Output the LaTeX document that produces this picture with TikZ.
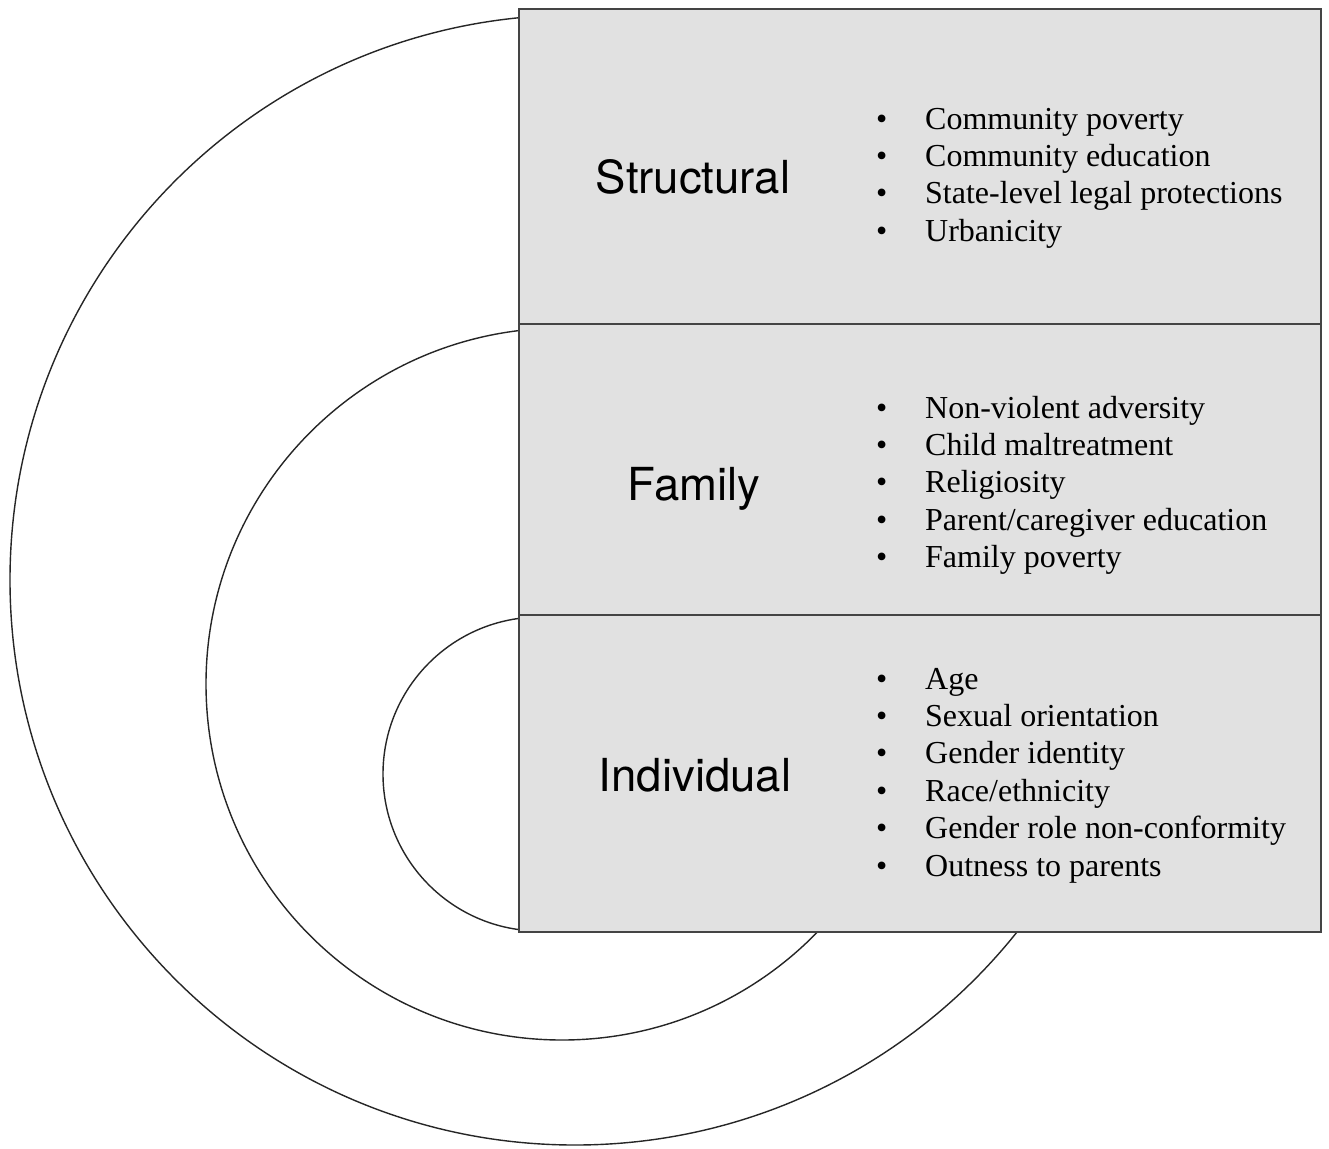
\documentclass[tikz,border=0pt]{standalone}
\usepackage{fontspec}
\setmainfont{Liberation Serif}
\newfontfamily\levelfont{TeX Gyre Heros}
\definecolor{boxgray}{HTML}{E1E1E1}
\definecolor{edgegray}{HTML}{444444}
\newcommand{\itm}[1]{\makebox[49pt][l]{\textbullet}#1}
\tikzset{
  levelbox/.style={draw=edgegray, fill=boxgray, line width=1.6pt, inner sep=0pt, outer sep=0pt, anchor=north west, minimum width=802pt},
  levellabel/.style={font=\levelfont\fontsize{45.5}{50}\selectfont, anchor=base, inner sep=0pt},
  levellist/.style={font=\fontsize{32}{37.4}\selectfont, anchor=base west, inner sep=0pt},
  ring/.style={draw=black!85, line width=1.4pt}
}
\begin{document}
\begin{tikzpicture}[x=1pt, y=-1pt]
\useasboundingbox[fill=white] (0,0) rectangle (1329,1148);
\draw[ring] (575,580) circle[radius=565pt];
\draw[ring] (562,684) circle[radius=356pt];
\draw[ring] (540,774) circle[radius=157pt];
\node[levelbox, minimum height=315pt] (sbox) at (519,9) {};
\node[levelbox, minimum height=291pt] (fbox) at (519,324) {};
\node[levelbox, minimum height=317pt] (ibox) at (519,615) {};
\node[levellabel] (slabel) at (693,193) {Structural};
\node[levellabel] (flabel) at (694,500) {Family};
\node[levellabel] (ilabel) at (695,791) {Individual};
\node[levellist] (slist) at (876,129) {\begin{tabular}[t]{@{}l@{}}
\itm{Community poverty}\\
\itm{Community education}\\
\itm{State-level legal protections}\\
\itm{Urbanicity}
\end{tabular}};
\node[levellist] (flist) at (876,418) {\begin{tabular}[t]{@{}l@{}}
\itm{Non-violent adversity}\\
\itm{Child maltreatment}\\
\itm{Religiosity}\\
\itm{Parent/caregiver education}\\
\itm{Family poverty}
\end{tabular}};
\node[levellist] (ilist) at (876,689) {\begin{tabular}[t]{@{}l@{}}
\itm{Age}\\
\itm{Sexual orientation}\\
\itm{Gender identity}\\
\itm{Race/ethnicity}\\
\itm{Gender role non-conformity}\\
\itm{Outness to parents}
\end{tabular}};
\end{tikzpicture}
\end{document}
